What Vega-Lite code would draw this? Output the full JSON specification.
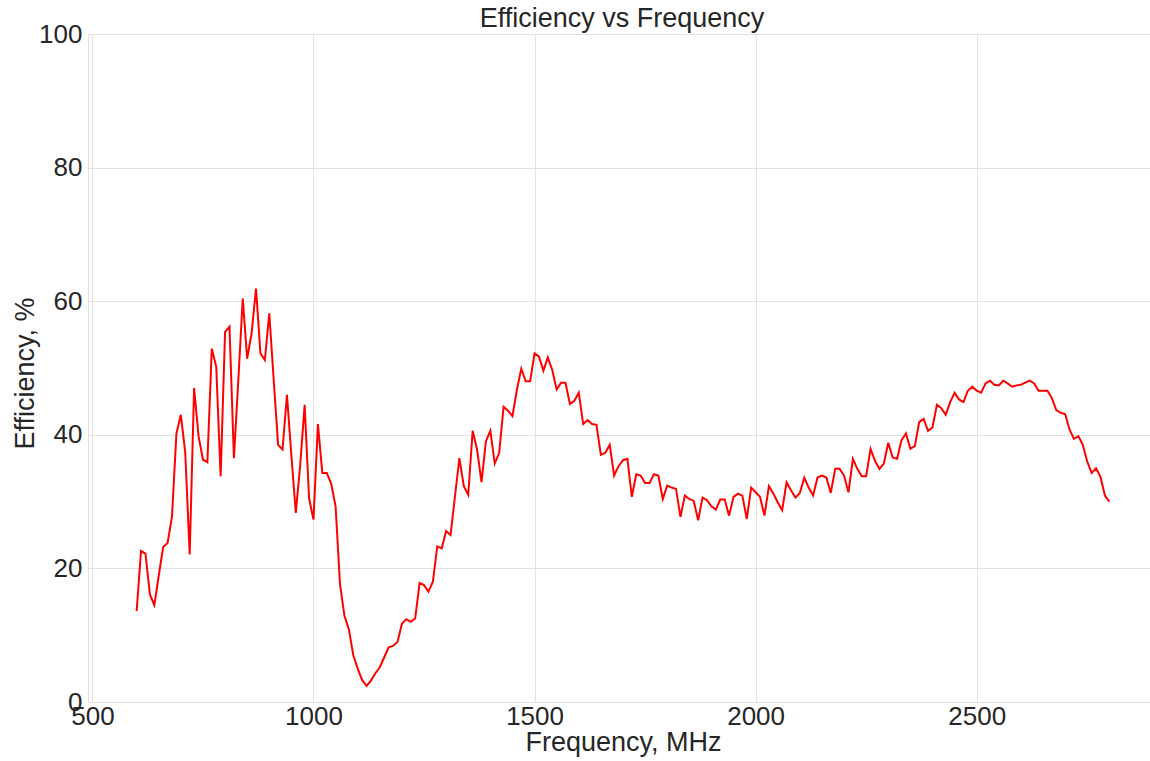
{
  "$schema": "https://vega.github.io/schema/vega-lite/v6.json",
  "width": 1062,
  "height": 668,
  "autosize": {"type": "none"},
  "padding": {"left": 88, "top": 34, "right": 0, "bottom": 59},
  "background": "white",
  "config": {
    "font": "Liberation Sans",
    "view": {"stroke": "#e2e2e2", "strokeWidth": 1},
    "axis": {
      "domain": false,
      "ticks": false,
      "grid": true,
      "gridColor": "#e2e2e2",
      "gridWidth": 1,
      "labelFont": "Liberation Sans",
      "labelFontSize": 26,
      "labelColor": "#262626",
      "titleFont": "Liberation Sans",
      "titleFontSize": 27,
      "titleFontWeight": "normal",
      "titleColor": "#262626",
      "labelFlush": false,
      "labelOverlap": false
    }
  },
  "title": {
    "text": "Efficiency vs Frequency",
    "font": "Liberation Sans",
    "fontSize": 27,
    "fontWeight": "normal",
    "color": "#262626",
    "anchor": "middle",
    "frame": "group",
    "baseline": "alphabetic",
    "offset": 0,
    "dx": 3,
    "dy": 33
  },
  "data": {
    "values": [
      {"f": 600, "e": 13.6}, {"f": 610, "e": 22.6}, {"f": 620, "e": 22.2}, {"f": 630, "e": 16.1}, {"f": 640, "e": 14.5},
      {"f": 650, "e": 18.9}, {"f": 660, "e": 23.2}, {"f": 670, "e": 23.8}, {"f": 680, "e": 27.8}, {"f": 690, "e": 40.2},
      {"f": 700, "e": 43.0}, {"f": 710, "e": 37.3}, {"f": 720, "e": 22.1}, {"f": 730, "e": 47.0}, {"f": 740, "e": 39.8},
      {"f": 750, "e": 36.3}, {"f": 760, "e": 35.9}, {"f": 770, "e": 52.9}, {"f": 780, "e": 50.2}, {"f": 790, "e": 33.8},
      {"f": 800, "e": 55.4}, {"f": 810, "e": 56.2}, {"f": 820, "e": 36.5}, {"f": 830, "e": 48.2}, {"f": 840, "e": 60.4},
      {"f": 850, "e": 51.4}, {"f": 860, "e": 55.2}, {"f": 870, "e": 61.9}, {"f": 880, "e": 52.2}, {"f": 890, "e": 51.2},
      {"f": 900, "e": 58.2}, {"f": 910, "e": 48.2}, {"f": 920, "e": 38.5}, {"f": 930, "e": 37.8}, {"f": 940, "e": 46.0},
      {"f": 950, "e": 36.9}, {"f": 960, "e": 28.3}, {"f": 970, "e": 35.5}, {"f": 980, "e": 44.5}, {"f": 990, "e": 30.5},
      {"f": 1000, "e": 27.3}, {"f": 1010, "e": 41.6}, {"f": 1020, "e": 34.3}, {"f": 1030, "e": 34.3}, {"f": 1040, "e": 32.7},
      {"f": 1050, "e": 29.3}, {"f": 1060, "e": 17.6}, {"f": 1070, "e": 12.9}, {"f": 1080, "e": 10.9}, {"f": 1090, "e": 7.0},
      {"f": 1100, "e": 5.0}, {"f": 1110, "e": 3.3}, {"f": 1120, "e": 2.4}, {"f": 1130, "e": 3.2}, {"f": 1140, "e": 4.3},
      {"f": 1150, "e": 5.2}, {"f": 1160, "e": 6.7}, {"f": 1170, "e": 8.2}, {"f": 1180, "e": 8.4}, {"f": 1190, "e": 9.0},
      {"f": 1200, "e": 11.7}, {"f": 1210, "e": 12.4}, {"f": 1220, "e": 12.0}, {"f": 1230, "e": 12.5}, {"f": 1240, "e": 17.8},
      {"f": 1250, "e": 17.5}, {"f": 1260, "e": 16.5}, {"f": 1270, "e": 18.0}, {"f": 1280, "e": 23.3}, {"f": 1290, "e": 23.0},
      {"f": 1300, "e": 25.6}, {"f": 1310, "e": 25.0}, {"f": 1320, "e": 30.8}, {"f": 1330, "e": 36.5}, {"f": 1340, "e": 32.3},
      {"f": 1350, "e": 31.0}, {"f": 1360, "e": 40.6}, {"f": 1370, "e": 37.8}, {"f": 1380, "e": 32.9}, {"f": 1390, "e": 39.0},
      {"f": 1400, "e": 40.6}, {"f": 1410, "e": 35.7}, {"f": 1420, "e": 37.3}, {"f": 1430, "e": 44.2}, {"f": 1440, "e": 43.6},
      {"f": 1450, "e": 42.8}, {"f": 1460, "e": 46.7}, {"f": 1470, "e": 49.9}, {"f": 1480, "e": 48.0}, {"f": 1490, "e": 48.0},
      {"f": 1500, "e": 52.2}, {"f": 1510, "e": 51.7}, {"f": 1520, "e": 49.6}, {"f": 1530, "e": 51.6}, {"f": 1540, "e": 49.7},
      {"f": 1550, "e": 46.8}, {"f": 1560, "e": 47.8}, {"f": 1570, "e": 47.8}, {"f": 1580, "e": 44.6}, {"f": 1590, "e": 45.1},
      {"f": 1600, "e": 46.3}, {"f": 1610, "e": 41.6}, {"f": 1620, "e": 42.2}, {"f": 1630, "e": 41.6}, {"f": 1640, "e": 41.5},
      {"f": 1650, "e": 37.0}, {"f": 1660, "e": 37.3}, {"f": 1670, "e": 38.5}, {"f": 1680, "e": 33.9}, {"f": 1690, "e": 35.3},
      {"f": 1700, "e": 36.2}, {"f": 1710, "e": 36.4}, {"f": 1720, "e": 30.7}, {"f": 1730, "e": 34.1}, {"f": 1740, "e": 33.9},
      {"f": 1750, "e": 32.8}, {"f": 1760, "e": 32.8}, {"f": 1770, "e": 34.1}, {"f": 1780, "e": 33.9}, {"f": 1790, "e": 30.4},
      {"f": 1800, "e": 32.4}, {"f": 1810, "e": 32.1}, {"f": 1820, "e": 31.9}, {"f": 1830, "e": 27.7}, {"f": 1840, "e": 30.9},
      {"f": 1850, "e": 30.4}, {"f": 1860, "e": 30.1}, {"f": 1870, "e": 27.2}, {"f": 1880, "e": 30.6}, {"f": 1890, "e": 30.2},
      {"f": 1900, "e": 29.3}, {"f": 1910, "e": 28.8}, {"f": 1920, "e": 30.3}, {"f": 1930, "e": 30.3}, {"f": 1940, "e": 27.9},
      {"f": 1950, "e": 30.7}, {"f": 1960, "e": 31.2}, {"f": 1970, "e": 30.9}, {"f": 1980, "e": 27.4}, {"f": 1990, "e": 32.1},
      {"f": 2000, "e": 31.4}, {"f": 2010, "e": 30.7}, {"f": 2020, "e": 27.9}, {"f": 2030, "e": 32.3}, {"f": 2040, "e": 31.2},
      {"f": 2050, "e": 29.9}, {"f": 2060, "e": 28.7}, {"f": 2070, "e": 32.9}, {"f": 2080, "e": 31.7}, {"f": 2090, "e": 30.6},
      {"f": 2100, "e": 31.3}, {"f": 2110, "e": 33.6}, {"f": 2120, "e": 32.1}, {"f": 2130, "e": 30.9}, {"f": 2140, "e": 33.6},
      {"f": 2150, "e": 33.9}, {"f": 2160, "e": 33.6}, {"f": 2170, "e": 31.3}, {"f": 2180, "e": 34.9}, {"f": 2190, "e": 34.9},
      {"f": 2200, "e": 33.9}, {"f": 2210, "e": 31.4}, {"f": 2220, "e": 36.4}, {"f": 2230, "e": 34.9}, {"f": 2240, "e": 33.8},
      {"f": 2250, "e": 33.8}, {"f": 2260, "e": 37.9}, {"f": 2270, "e": 36.1}, {"f": 2280, "e": 34.9}, {"f": 2290, "e": 35.7},
      {"f": 2300, "e": 38.8}, {"f": 2310, "e": 36.6}, {"f": 2320, "e": 36.4}, {"f": 2330, "e": 39.2}, {"f": 2340, "e": 40.2},
      {"f": 2350, "e": 37.9}, {"f": 2360, "e": 38.3}, {"f": 2370, "e": 41.9}, {"f": 2380, "e": 42.4}, {"f": 2390, "e": 40.6},
      {"f": 2400, "e": 41.1}, {"f": 2410, "e": 44.5}, {"f": 2420, "e": 44.0}, {"f": 2430, "e": 43.0}, {"f": 2440, "e": 44.9},
      {"f": 2450, "e": 46.3}, {"f": 2460, "e": 45.3}, {"f": 2470, "e": 44.9}, {"f": 2480, "e": 46.6}, {"f": 2490, "e": 47.2},
      {"f": 2500, "e": 46.6}, {"f": 2510, "e": 46.3}, {"f": 2520, "e": 47.7}, {"f": 2530, "e": 48.1}, {"f": 2540, "e": 47.5},
      {"f": 2550, "e": 47.4}, {"f": 2560, "e": 48.1}, {"f": 2570, "e": 47.7}, {"f": 2580, "e": 47.2}, {"f": 2590, "e": 47.4},
      {"f": 2600, "e": 47.5}, {"f": 2610, "e": 47.8}, {"f": 2620, "e": 48.1}, {"f": 2630, "e": 47.7}, {"f": 2640, "e": 46.6},
      {"f": 2650, "e": 46.6}, {"f": 2660, "e": 46.6}, {"f": 2670, "e": 45.5}, {"f": 2680, "e": 43.7}, {"f": 2690, "e": 43.3},
      {"f": 2700, "e": 43.1}, {"f": 2710, "e": 40.8}, {"f": 2720, "e": 39.4}, {"f": 2730, "e": 39.8}, {"f": 2740, "e": 38.5},
      {"f": 2750, "e": 36.0}, {"f": 2760, "e": 34.3}, {"f": 2770, "e": 35.0}, {"f": 2780, "e": 33.7}, {"f": 2790, "e": 30.9},
      {"f": 2800, "e": 30.0}
    ]
  },
  "mark": {"type": "line", "color": "#ff0000", "strokeWidth": 2, "interpolate": "linear"},
  "encoding": {
    "x": {
      "field": "f",
      "type": "quantitative",
      "scale": {"domain": [490, 2892], "nice": false, "zero": false},
      "axis": {
        "title": "Frequency, MHz",
        "values": [500, 1000, 1500, 2000, 2500],
        "format": "d",
        "labelPadding": 1,
        "titleX": 535,
        "titleY": 48,
        "titleBaseline": "alphabetic",
        "titleAnchor": "start",
        "titleAlign": "center"
      }
    },
    "y": {
      "field": "e",
      "type": "quantitative",
      "scale": {"domain": [0, 100], "nice": false},
      "axis": {
        "title": "Efficiency, %",
        "values": [0, 20, 40, 60, 80, 100],
        "labelPadding": 6,
        "titleAngle": 270,
        "titleX": -55,
        "titleY": 339,
        "titleBaseline": "alphabetic",
        "titleAlign": "center",
        "titleAnchor": "start"
      }
    }
  }
}
